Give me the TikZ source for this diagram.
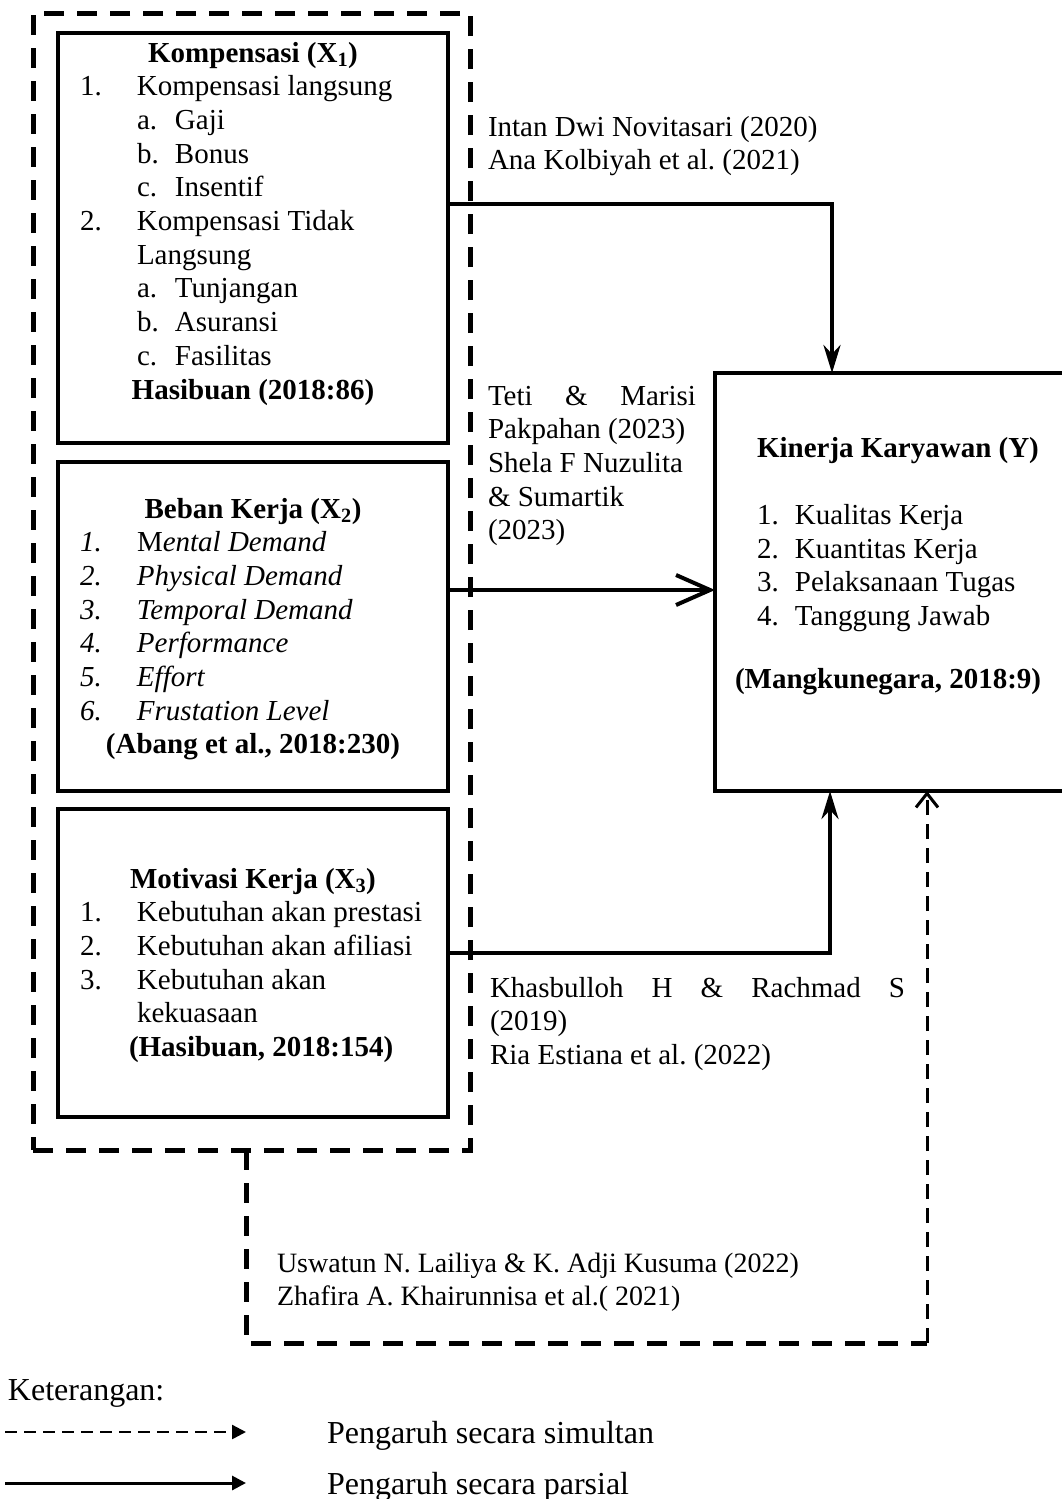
\documentclass[tikz,border=0pt]{standalone}
\usepackage{fontspec}
\setmainfont{Liberation Serif}
\usetikzlibrary{arrows.meta}
\frenchspacing
\begin{document}
\begin{tikzpicture}[x=1pt,y=-1pt,
  txt/.style={inner sep=0pt, outer sep=0pt, anchor=base west, font=\fontsize{29pt}{33.7pt}\selectfont\frenchspacing},
  smalltxt/.style={inner sep=0pt, outer sep=0pt, anchor=base west, font=\fontsize{28pt}{33pt}\selectfont\frenchspacing},
  legtxt/.style={inner sep=0pt, outer sep=0pt, anchor=base west, font=\fontsize{32pt}{36pt}\selectfont},
  varbox/.style={draw, line width=4pt, anchor=north west, inner sep=0pt, outer sep=0pt},
  grp/.style={draw, line width=5pt, dash pattern=on 20pt off 13pt, anchor=north west, inner sep=0pt, outer sep=0pt},
  partial/.style={line width=4pt, -{Stealth[length=28pt,width=17pt,inset=9pt]}},
  openpartial/.style={line width=4pt, -{Straight Barb[length=34pt,width=30pt,line width=4pt]}},
  simbody/.style={line width=5pt, dash pattern=on 20pt off 13pt},
  simul/.style={line width=3pt, dash pattern=on 15pt off 9pt, -{Straight Barb[length=14pt,width=22pt,line width=3pt]}},
  legdash/.style={line width=2.5pt, dash pattern=on 12pt off 7pt, -{Triangle[length=14pt,width=14pt]}},
  legsolid/.style={line width=3pt, -{Triangle[length=14pt,width=14pt]}}
]
\useasboundingbox (0,0) rectangle (1061,1499);
\fill[white] (0,0) rectangle (1061,1499);

% group box
\node[grp, minimum width=437pt, minimum height=1137pt] (outer) at (33,13) {};

% variable boxes
\node[varbox, minimum width=390pt, minimum height=410pt] (b1) at (58,33) {};
\node[varbox, minimum width=390pt, minimum height=329pt] (b2) at (58,462) {};
\node[varbox, minimum width=390pt, minimum height=308pt] (b3) at (58,809) {};
\node[varbox, minimum width=360pt, minimum height=418pt] (Y) at (715,373) {};

% box texts
\node[txt] (t1) at (80,62) {\begin{tabular}[t]{@{}l@{}}
\hspace*{173pt}\makebox[0pt]{\textbf{Kompensasi (X\textsubscript{1})}}\\
\makebox[57pt][l]{1.}Kompensasi langsung\\
\hspace*{57pt}\makebox[38pt][l]{a.}Gaji\\
\hspace*{57pt}\makebox[38pt][l]{b.}Bonus\\
\hspace*{57pt}\makebox[38pt][l]{c.}Insentif\\
\makebox[57pt][l]{2.}Kompensasi Tidak\\
\hspace*{57pt}Langsung\\
\hspace*{57pt}\makebox[38pt][l]{a.}Tunjangan\\
\hspace*{57pt}\makebox[38pt][l]{b.}Asuransi\\
\hspace*{57pt}\makebox[38pt][l]{c.}Fasilitas\\
\hspace*{173pt}\makebox[0pt]{\textbf{Hasibuan (2018:86)}}
\end{tabular}};

\node[txt] (t2) at (80,518) {\begin{tabular}[t]{@{}l@{}}
\hspace*{173pt}\makebox[0pt]{\textbf{Beban Kerja (X\textsubscript{2})}}\\
\makebox[57pt][l]{\textit{1.}}M\textit{ental Demand}\\
\makebox[57pt][l]{\textit{2.}}\textit{Physical Demand}\\
\makebox[57pt][l]{\textit{3.}}\textit{Temporal Demand}\\
\makebox[57pt][l]{\textit{4.}}\textit{Performance}\\
\makebox[57pt][l]{\textit{5.}}\textit{Effort}\\
\makebox[57pt][l]{\textit{6.}}\textit{Frustation Level}\\
\hspace*{173pt}\makebox[0pt]{\textbf{(Abang et al., 2018:230)}}
\end{tabular}};

\node[txt] (t3) at (80,888) {\begin{tabular}[t]{@{}l@{}}
\hspace*{173pt}\makebox[0pt]{\textbf{Motivasi Kerja (X\textsubscript{3})}}\\
\makebox[57pt][l]{1.}Kebutuhan akan prestasi\\
\makebox[57pt][l]{2.}Kebutuhan akan afiliasi\\
\makebox[57pt][l]{3.}Kebutuhan akan\\
\hspace*{57pt}kekuasaan\\
\hspace*{49pt}\textbf{(Hasibuan, 2018:154)}
\end{tabular}};

\node[txt] (ty) at (735,457) {\begin{tabular}[t]{@{}l@{}}
\hspace*{22pt}\textbf{Kinerja Karyawan (Y)}\\[0pt]
\\
\hspace*{22pt}\makebox[38pt][l]{1.}Kualitas Kerja\\
\hspace*{22pt}\makebox[38pt][l]{2.}Kuantitas Kerja\\
\hspace*{22pt}\makebox[38pt][l]{3.}Pelaksanaan Tugas\\
\hspace*{22pt}\makebox[38pt][l]{4.}Tanggung Jawab\\[-4pt]
\\
\textbf{(Mangkunegara, 2018:9)}
\end{tabular}};

% citation texts
\node[txt] (c1t) at (488,136) {\begin{tabular}[t]{@{}l@{}}
Intan Dwi Novitasari (2020)\\
Ana Kolbiyah et al. (2021)
\end{tabular}};
\node[txt] (c2t) at (488,405) {\begin{tabular}[t]{@{}l@{}}
\makebox[208pt][s]{Teti\hfill\&\hfill Marisi}\\
Pakpahan (2023)\\
Shela F Nuzulita\\
\& Sumartik\\
(2023)
\end{tabular}};
\node[txt] (c3t) at (490,997) {\begin{tabular}[t]{@{}l@{}}
\makebox[415pt][s]{Khasbulloh\hfill H\hfill\&\hfill Rachmad\hfill S}\\
(2019)\\
Ria Estiana et al. (2022)
\end{tabular}};
\node[smalltxt] (c4t) at (277,1272) {\begin{tabular}[t]{@{}l@{}}
Uswatun N. Lailiya \& K. Adji Kusuma (2022)\\
Zhafira A. Khairunnisa et al.( 2021)
\end{tabular}};

% connectors
\draw[partial] ([yshift=34pt]b1.east) -| ([xshift=117pt]Y.north west);
\draw[openpartial] ([yshift=36.5pt]b2.east) -- ([yshift=36.5pt]b2.east -| Y.west);
\draw[partial] ([yshift=10pt]b3.east) -| ([xshift=115pt]Y.south west);

\coordinate (d1) at (246,1343);
\coordinate (d2) at (927,1343);
\draw[simbody] ([xshift=-5.5pt]outer.south) -- (d1) -- (d2);
\draw[simul] (d2) -- ([xshift=212pt]Y.south west);

% legend
\node[legtxt] (ket) at (8,1400) {Keterangan:};
\coordinate (la1) at (5,1432);
\coordinate (la2) at (246,1432);
\coordinate (lb1) at (5,1483);
\coordinate (lb2) at (246,1483);
\draw[legdash] (la1) -- (la2);
\draw[legsolid] (lb1) -- (lb2);
\node[legtxt] (l1t) at (327,1443) {Pengaruh secara simultan};
\node[legtxt] (l2t) at (327,1494) {Pengaruh secara parsial};
\end{tikzpicture}
\end{document}
